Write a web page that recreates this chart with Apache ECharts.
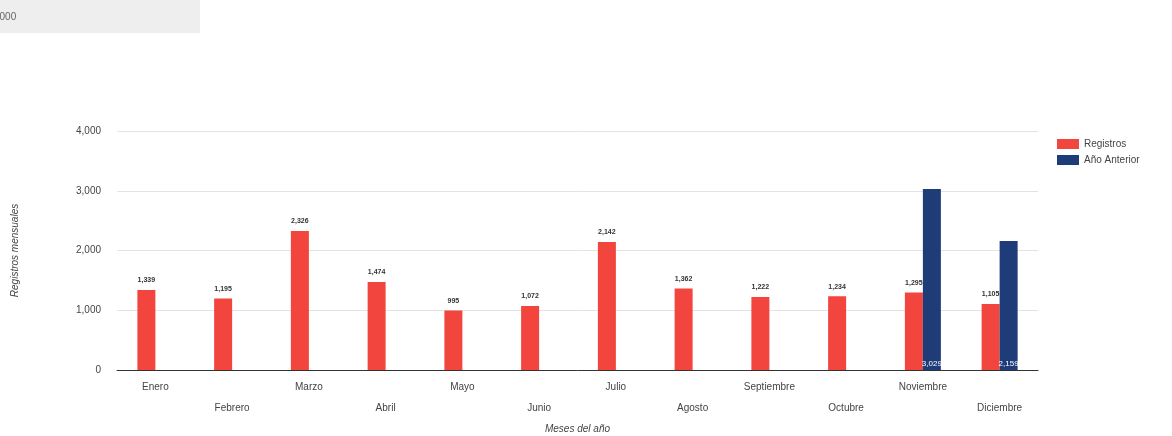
<!DOCTYPE html>
<html>
<head>
<meta charset="utf-8">
<script src="https://cdn.jsdelivr.net/npm/echarts@6/dist/echarts.min.js"></script>
<style>
html,body{margin:0;padding:0;background:#fff;}
#c{width:1172px;height:436px;}
</style>
</head>
<body>
<div id="c"></div>
<script>
const categories = ['Enero','Febrero','Marzo','Abril','Mayo','Junio','Julio','Agosto','Septiembre','Octubre','Noviembre','Diciembre'];
const registros = [1339, 1195, 2326, 1474, 995, 1072, 2142, 1362, 1222, 1234, 1295, 1105];
const anioAnterior = [0, 0, 0, 0, 0, 0, 0, 0, 0, 0, 3029, 2159];
const yTicks = [0, 1000, 2000, 3000, 4000];

const fmt = v => Number(v).toLocaleString('en-US');
const chart = echarts.init(document.getElementById('c'), null, {renderer:'canvas'});
chart.setOption({
  animation:false,
  textStyle:{fontFamily:'Liberation Sans, Arial, sans-serif'},
  graphic:[
    {type:'rect', left:0, top:0, shape:{width:200, height:33}, style:{fill:'#eeeeee'}},
    {type:'text', left:-6, top:12, style:{text:'2000', fill:'#666', font:'10px Liberation Sans'}}
  ],
  legend:{
    orient:'vertical', left:1052, top:134, itemWidth:22, itemHeight:10, itemGap:6,
    icon:'rect',
    textStyle:{color:'#444', fontSize:10}
  },
  grid:{left:117, right:134, top:131, bottom:66, outerBoundsMode:'none', containLabel:false},
  xAxis:{
    type:'category', data:categories,
    name:'Meses del año', nameLocation:'middle', nameGap:51,
    nameTextStyle:{color:'#444', fontSize:10, fontStyle:'italic'},
    axisLine:{lineStyle:{color:'#333'}},
    axisTick:{show:false},
    axisLabel:{
      interval:0, color:'#444', fontSize:10, margin:7, lineHeight:21,
      formatter:(v,i)=> i%2 ? '\n'+v : v
    }
  },
  yAxis:{
    type:'value', min:yTicks[0], max:yTicks[yTicks.length-1], interval:1000,
    name:'Registros mensuales', nameLocation:'middle', nameGap:97, nameRotate:90,
    nameTextStyle:{color:'#444', fontSize:10, fontStyle:'italic'},
    axisLine:{show:false}, axisTick:{show:false},
    axisLabel:{color:'#444', fontSize:10, margin:16, formatter:fmt},
    splitLine:{lineStyle:{color:'#e3e3e3'}}
  },
  series:[
    {
      name:'Registros', type:'bar', data:registros, barWidth:18, barGap:'0%',
      itemStyle:{color:'#F2453D'},
      label:{show:true, position:'top', distance:6, fontSize:7, fontWeight:'bold', color:'#333', formatter:p=>fmt(p.value)}
    },
    {
      name:'Año Anterior', type:'bar', data:anioAnterior, barWidth:18,
      itemStyle:{color:'#1E3C78'},
      label:{show:true, position:'insideBottom', distance:2, fontSize:8, color:'#fff', formatter:p=>fmt(p.value)}
    }
  ]
});
</script>
</body>
</html>
